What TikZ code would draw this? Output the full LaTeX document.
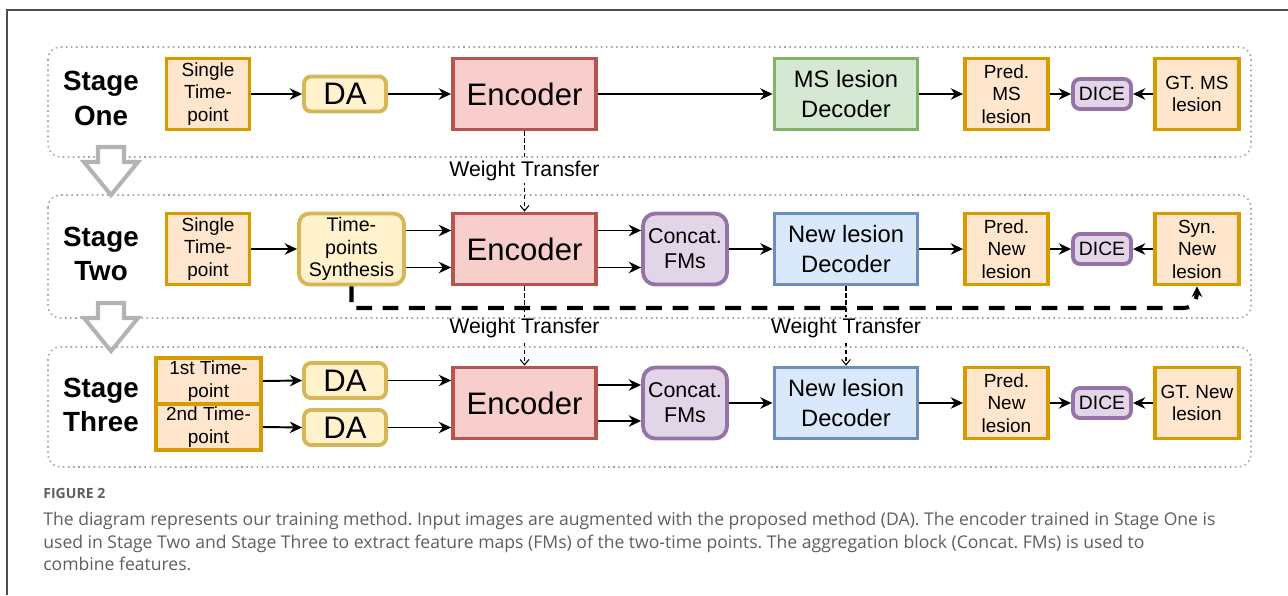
\documentclass[tikz,border=0pt]{standalone}
\usepackage{fontspec}
\setmainfont{Liberation Sans}
\newfontfamily\capfont{Open Sans}
\usetikzlibrary{positioning, arrows.meta}

\definecolor{orgfill}{HTML}{FFE6CC}
\definecolor{orgline}{HTML}{D79B00}
\definecolor{yelfill}{HTML}{FFF2CC}
\definecolor{yelline}{HTML}{D6B656}
\definecolor{redfill}{HTML}{F8CECC}
\definecolor{redline}{HTML}{B85450}
\definecolor{grnfill}{HTML}{D5E8D4}
\definecolor{grnline}{HTML}{82B366}
\definecolor{blufill}{HTML}{DAE8FC}
\definecolor{bluline}{HTML}{6C8EBF}
\definecolor{purfill}{HTML}{E1D5E7}
\definecolor{purline}{HTML}{9673A6}
\definecolor{dotgray}{HTML}{A6A6A6}
\definecolor{arrgray}{HTML}{B3B3B3}
\definecolor{capgray}{HTML}{5E5E5E}
\definecolor{framecol}{HTML}{4D4D4D}

\tikzset{
  blk/.style={draw, line width=2.2pt, align=center, inner sep=1pt, minimum height=1.42cm},
  orgbox/.style={blk, fill=orgfill, draw=orgline, minimum width=1.66cm, font=\fontsize{10.8}{12.8}\selectfont},
  dabox/.style={blk, fill=yelfill, draw=yelline, rounded corners=4pt, minimum width=1.64cm, minimum height=0.70cm, font=\fontsize{17.7}{20}\selectfont},
  synbox/.style={blk, fill=yelfill, draw=yelline, rounded corners=6pt, minimum width=2.10cm, font=\fontsize{11.2}{12.8}\selectfont},
  encbox/.style={blk, fill=redfill, draw=redline, minimum width=2.86cm, font=\fontsize{17.7}{20}\selectfont},
  catbox/.style={blk, fill=purfill, draw=purline, rounded corners=7pt, minimum width=1.68cm, font=\fontsize{12.2}{14.2}\selectfont},
  decbox/.style={blk, minimum width=2.86cm, font=\fontsize{13.5}{17}\selectfont},
  dicebox/.style={blk, fill=purfill, draw=purline, rounded corners=4pt, minimum width=1.16cm, minimum height=0.60cm, font=\fontsize{11}{13}\selectfont},
  arr/.style={-{Stealth[length=7pt,width=6.5pt]}, line width=1.1pt},
  wtline/.style={dash pattern=on 2.5pt off 1.5pt, line width=0.6pt, -{Straight Barb[length=3pt,width=5pt]}},
  wtlabel/.style={fill=white, inner sep=1pt, font=\fontsize{12.1}{14}\selectfont},
  synline/.style={line width=2.3pt, dash pattern=on 9pt off 6pt, -{Stealth[length=6pt,width=6pt]}},
  stagebox/.style={draw=dotgray, line width=0.9pt, dash pattern=on 0.9pt off 2pt, rounded corners=7pt},
  stagetxt/.style={align=center, font=\fontsize{15.8}{19.8}\selectfont\bfseries},
  bigarrow/.style={draw=arrgray, fill=white, line width=2.3pt},
}

\begin{document}
\begin{tikzpicture}[x=0.02cm, y=-0.02cm]
\useasboundingbox (0,0) rectangle (1288,595);
% figure frame
\draw[framecol, line width=0.9pt] (7,595) -- (7,10) -- (1288,10);

% Stage One
\node[stagetxt] (st1) at (101,98.5) {Stage\\One};
\node[orgbox] (in1) at (208,94) {Single\\Time-\\point};
\node[dabox] (da1) at (345,94) {DA};
\node[encbox] (enc1) at (524.5,94) {Encoder};
\node[decbox, fill=grnfill, draw=grnline] (dec1) at (846,94) {MS lesion\\Decoder};
\node[orgbox] (pred1) at (1006.5,94) {Pred.\\MS\\lesion};
\node[dicebox] (dice1) at (1102,94) {DICE};
\node[orgbox, minimum width=1.68cm] (gt1) at (1197,94) {GT. MS\\lesion};

\draw[arr] (in1) -- (da1);
\draw[arr] (da1) -- (enc1);
\draw[arr] (enc1) -- (dec1);
\draw[arr] (dec1) -- (pred1);
\draw[arr] (pred1) -- (dice1);
\draw[arr] (gt1) -- (dice1);

% Stage Two
\node[stagetxt] (st2) at (101,254) {Stage\\Two};
\node[orgbox] (in2) at (208,249) {Single\\Time-\\point};
\node[synbox] (syn2) at (351.5,249) {Time-\\points\\Synthesis};
\node[encbox] (enc2) at (524.5,249) {Encoder};
\node[catbox] (cat2) at (685,249) {Concat.\\FMs};
\node[decbox, fill=blufill, draw=bluline] (dec2) at (846,249) {New lesion\\Decoder};
\node[orgbox] (pred2) at (1006.5,249) {Pred.\\New\\lesion};
\node[dicebox] (dice2) at (1102,249) {DICE};
\node[orgbox, minimum width=1.68cm] (new2) at (1197,249) {Syn.\\New\\lesion};

\draw[arr] (in2) -- (syn2);
\draw[arr] ([yshift=0.37cm]syn2.east) -- ([yshift=0.37cm]enc2.west);
\draw[arr] ([yshift=-0.37cm]syn2.east) -- ([yshift=-0.37cm]enc2.west);
\draw[arr] ([yshift=0.37cm]enc2.east) -- ([yshift=0.37cm]cat2.west);
\draw[arr] ([yshift=-0.37cm]enc2.east) -- ([yshift=-0.37cm]cat2.west);
\draw[arr] (cat2) -- (dec2);
\draw[arr] (dec2) -- (pred2);
\draw[arr] (pred2) -- (dice2);
\draw[arr] (new2) -- (dice2);

% synthetic label path
\coordinate (bend) at (1184,308);
\draw[synline] (syn2.south) |- (bend) to[out=0,in=-90] (new2.south);

% Stage Three
\node[stagetxt] (st3) at (101,405) {Stage\\Three};
\node[orgbox, minimum width=2.10cm, minimum height=0.92cm] (in3a) at (208.5,381) {1st Time-\\point};
\node[orgbox, minimum width=2.10cm, minimum height=0.92cm] (in3b) at (208.5,427) {2nd Time-\\point};
\node[dabox] (da3a) at (345,380.5) {DA};
\node[dabox] (da3b) at (345,427.5) {DA};
\node[encbox] (enc3) at (524.5,403) {Encoder};
\node[catbox] (cat3) at (685,403) {Concat.\\FMs};
\node[decbox, fill=blufill, draw=bluline] (dec3) at (846,403) {New lesion\\Decoder};
\node[orgbox] (pred3) at (1006.5,403) {Pred.\\New\\lesion};
\node[dicebox] (dice3) at (1102,403) {DICE};
\node[orgbox, minimum width=1.68cm] (gt3) at (1197,403) {GT. New\\lesion};

\draw[arr] (in3a.east) -- (da3a.west);
\draw[arr] (in3b.east) -- (da3b.west);
\draw[arr] (da3a.east) -- (da3a.east -| enc3.west);
\draw[arr] (da3b.east) -- (da3b.east -| enc3.west);
\draw[arr] ([yshift=0.36cm]enc3.east) -- ([yshift=0.36cm]cat3.west);
\draw[arr] ([yshift=-0.36cm]enc3.east) -- ([yshift=-0.36cm]cat3.west);
\draw[arr] (cat3) -- (dec3);
\draw[arr] (dec3) -- (pred3);
\draw[arr] (pred3) -- (dice3);
\draw[arr] (gt3) -- (dice3);

% weight transfer
\draw[wtline] (enc1.south) -- node[wtlabel, pos=0.5] (wt1) {Weight Transfer} (enc2.north);
\draw[wtline] (enc2.south) -- node[wtlabel, pos=0.53] (wt2) {Weight Transfer} (enc3.north);
\draw[wtline] (dec2.south) -- node[wtlabel, pos=0.53] (wt3) {Weight Transfer} (dec3.north);

% stage frames
\draw[stagebox] (48,47) rectangle (1251,157);
\draw[stagebox] (48,195) rectangle (1251,318);
\draw[stagebox] (48,347) rectangle (1251,467);

% stage to stage
\draw[bigarrow] (98,147) -- (124,147) -- (124,162) -- (138,162) -- (111,195) -- (84,162) -- (98,162) -- cycle;
\draw[bigarrow] (98,303) -- (124,303) -- (124,318) -- (138,318) -- (111,351) -- (84,318) -- (98,318) -- cycle;

% caption
\node[anchor=north west, inner sep=0pt, text=capgray, font=\capfont\bfseries\fontsize{8}{10}\selectfont] (fig) at (43,488) {FIGURE 2};
\node[anchor=north west, inner sep=0pt, align=left, text=capgray, font=\capfont\frenchspacing\fontsize{10}{12.8}\selectfont] (cap) at (43,512) {The diagram represents our training method. Input images are augmented with the proposed method (DA). The encoder trained in Stage One is\\used in Stage Two and Stage Three to extract feature maps (FMs) of the two-time points. The aggregation block (Concat. FMs) is used to\\combine features.};
\end{tikzpicture}
\end{document}
